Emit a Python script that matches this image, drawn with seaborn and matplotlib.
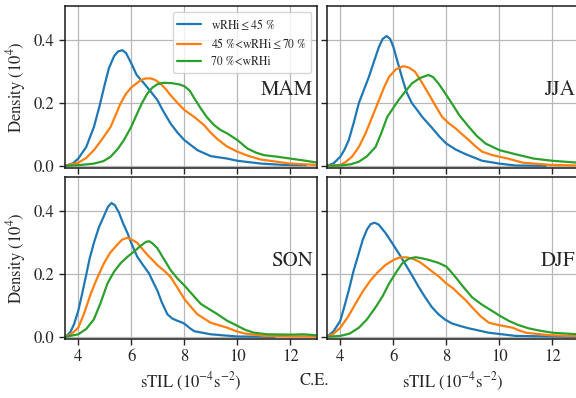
import pandas as pd
import matplotlib
matplotlib.use("Agg")
import matplotlib.pyplot as plt
import seaborn as sns

# curves, (sTIL, density) pairs
mam_low = [(3.52, 0), (3.8, 0.008), (4.0, 0.023), (4.3, 0.06), (4.59, 0.124), (4.8, 0.19),
           (4.97, 0.25), (5.15, 0.31), (5.35, 0.35), (5.5, 0.365), (5.66, 0.369), (5.8, 0.36),
           (6.0, 0.327), (6.2, 0.29), (6.48, 0.263), (6.75, 0.235), (6.98, 0.21), (7.2, 0.175),
           (7.48, 0.135), (7.75, 0.105), (8.0, 0.082), (8.49, 0.05), (8.99, 0.031), (9.3, 0.027),
           (9.62, 0.023), (10.0, 0.016), (10.9, 0.007), (11.7, 0.003), (12.58, 0.002)]
mam_mid = [(3.52, 0), (4.0, 0.01), (4.3, 0.025), (4.59, 0.05), (4.9, 0.085), (5.22, 0.124),
           (5.4, 0.16), (5.6, 0.2), (5.8, 0.23), (6.0, 0.25), (6.35, 0.273), (6.55, 0.279),
           (6.73, 0.279), (6.9, 0.274), (7.1, 0.262), (7.3, 0.245), (7.48, 0.225), (7.75, 0.2),
           (8.0, 0.178), (8.37, 0.156), (8.74, 0.13), (9.0, 0.105), (9.25, 0.085), (9.6, 0.062),
           (10.0, 0.045), (10.4, 0.032), (10.88, 0.02), (12.0, 0.007), (12.95, 0.003)]
mam_high = [(3.52, 0), (4.0, 0.002), (4.59, 0.007), (4.95, 0.015), (5.22, 0.029), (5.5, 0.055),
            (5.72, 0.082), (6.0, 0.125), (6.22, 0.167), (6.4, 0.2), (6.6, 0.23), (6.8, 0.25),
            (6.98, 0.26), (7.2, 0.265), (7.5, 0.264), (7.8, 0.26), (8.0, 0.254), (8.2, 0.24),
            (8.4, 0.212), (8.62, 0.183), (8.85, 0.155), (9.12, 0.13), (9.35, 0.115),
            (9.62, 0.103), (10.0, 0.082), (10.38, 0.055), (10.7, 0.042), (11.0, 0.034),
            (11.5, 0.029), (12.0, 0.023), (12.5, 0.017), (12.95, 0.011)]

jja_low = [(3.5, 0), (3.75, 0.008), (4.0, 0.029), (4.15, 0.05), (4.32, 0.082), (4.5, 0.135),
           (4.7, 0.2), (5.08, 0.284), (5.3, 0.34), (5.46, 0.38), (5.6, 0.405), (5.75, 0.414),
           (5.88, 0.405), (6.0, 0.38), (6.15, 0.335), (6.32, 0.284), (6.5, 0.235), (6.7, 0.2),
           (6.9, 0.178), (7.09, 0.156), (7.47, 0.12), (7.75, 0.092), (8.0, 0.071), (8.35, 0.052),
           (8.73, 0.037), (9.35, 0.016), (10.0, 0.007), (10.6, 0.001), (11.75, 0.0)]
jja_mid = [(3.5, 0), (4.0, 0.003), (4.2, 0.012), (4.44, 0.029), (4.7, 0.06), (4.95, 0.103),
           (5.2, 0.155), (5.46, 0.21), (5.65, 0.25), (5.84, 0.284), (6.1, 0.308), (6.38, 0.318),
           (6.6, 0.313), (6.82, 0.3), (7.05, 0.27), (7.33, 0.23), (7.6, 0.19), (7.84, 0.156),
           (8.1, 0.135), (8.34, 0.12), (8.6, 0.1), (8.85, 0.082), (9.1, 0.062), (9.35, 0.045),
           (9.7, 0.035), (10.0, 0.029), (10.37, 0.022), (10.88, 0.01), (11.9, 0.003), (12.95, 0.001)]
jja_high = [(3.5, 0), (4.0, 0.001), (4.4, 0.005), (4.7, 0.013), (5.0, 0.03), (5.33, 0.06),
            (5.55, 0.105), (5.77, 0.156), (6.0, 0.185), (6.2, 0.21), (6.45, 0.237), (6.7, 0.263),
            (7.0, 0.28), (7.33, 0.29), (7.5, 0.283), (7.7, 0.263), (7.95, 0.232), (8.2, 0.2),
            (8.5, 0.16), (8.85, 0.124), (9.15, 0.095), (9.48, 0.071), (10.0, 0.05), (10.6, 0.037),
            (11.3, 0.023), (12.0, 0.016), (12.95, 0.01)]

son_low = [(3.52, 0), (3.7, 0.015), (3.84, 0.04), (4.0, 0.083), (4.14, 0.135), (4.28, 0.19),
           (4.43, 0.25), (4.59, 0.3), (4.78, 0.35), (4.97, 0.386), (5.12, 0.415), (5.25, 0.427),
           (5.38, 0.42), (5.53, 0.397), (5.7, 0.36), (5.85, 0.332), (6.02, 0.295), (6.22, 0.256),
           (6.45, 0.228), (6.67, 0.202), (6.85, 0.17), (6.98, 0.148), (7.15, 0.11), (7.36, 0.072),
           (7.55, 0.058), (7.74, 0.051), (7.9, 0.046), (8.0, 0.042), (8.2, 0.028), (8.37, 0.018),
           (8.99, 0.008), (10.0, 0.001), (11.4, 0.0)]
son_mid = [(3.52, 0), (3.75, 0.01), (4.0, 0.029), (4.2, 0.07), (4.47, 0.137), (4.7, 0.185),
           (4.97, 0.235), (5.2, 0.268), (5.47, 0.294), (5.65, 0.31), (5.85, 0.316), (6.02, 0.31),
           (6.22, 0.3), (6.4, 0.282), (6.6, 0.262), (6.8, 0.245), (6.98, 0.229), (7.25, 0.21),
           (7.48, 0.191), (7.75, 0.155), (8.0, 0.121), (8.25, 0.095), (8.49, 0.072),
           (8.99, 0.045), (9.62, 0.029), (9.95, 0.018), (10.25, 0.011), (11.0, 0.003),
           (12.95, 0.001)]
son_high = [(3.52, 0), (4.0, 0.008), (4.3, 0.025), (4.59, 0.056), (4.85, 0.11), (5.1, 0.17),
            (5.35, 0.208), (5.6, 0.235), (5.85, 0.255), (6.1, 0.272), (6.35, 0.29), (6.55, 0.303),
            (6.67, 0.305), (6.8, 0.298), (6.98, 0.283), (7.2, 0.252), (7.48, 0.213), (7.75, 0.185),
            (8.0, 0.164), (8.3, 0.135), (8.62, 0.105), (9.0, 0.085), (9.25, 0.072), (9.6, 0.052),
            (10.0, 0.035), (10.3, 0.022), (10.63, 0.013), (11.13, 0.008), (12.0, 0.007),
            (12.5, 0.008), (12.95, 0.005)]

djf_low = [(3.5, 0), (3.75, 0.018), (4.0, 0.051), (4.15, 0.095), (4.32, 0.148), (4.5, 0.21),
           (4.7, 0.267), (4.85, 0.31), (5.01, 0.343), (5.15, 0.36), (5.3, 0.364), (5.45, 0.358),
           (5.7, 0.332), (5.95, 0.3), (6.2, 0.267), (6.45, 0.232), (6.7, 0.197), (6.95, 0.16),
           (7.2, 0.126), (7.45, 0.095), (7.7, 0.072), (7.95, 0.055), (8.2, 0.043), (8.5, 0.035),
           (8.85, 0.027), (9.6, 0.013), (10.6, 0.003), (11.9, 0.001), (12.95, 0.0)]
djf_mid = [(3.5, 0), (3.75, 0.01), (4.0, 0.029), (4.3, 0.065), (4.57, 0.105), (4.85, 0.145),
           (5.14, 0.18), (5.4, 0.205), (5.7, 0.229), (6.0, 0.245), (6.2, 0.252), (6.46, 0.254),
           (6.7, 0.25), (6.97, 0.24), (7.2, 0.226), (7.47, 0.208), (7.75, 0.19), (8.0, 0.17),
           (8.25, 0.155), (8.47, 0.137), (8.75, 0.115), (8.97, 0.094), (9.3, 0.065), (9.6, 0.045),
           (10.0, 0.037), (10.5, 0.029), (10.75, 0.02), (11.0, 0.013), (11.9, 0.005),
           (12.95, 0.002)]
djf_high = [(3.5, 0), (4.0, 0.003), (4.35, 0.01), (4.7, 0.029), (5.0, 0.055), (5.33, 0.094),
            (5.6, 0.13), (5.84, 0.17), (6.1, 0.205), (6.34, 0.235), (6.6, 0.25), (6.85, 0.254),
            (7.1, 0.25), (7.35, 0.245), (7.7, 0.236), (8.0, 0.224), (8.15, 0.21), (8.34, 0.191),
            (8.65, 0.158), (8.97, 0.126), (9.3, 0.105), (9.6, 0.089), (10.0, 0.068),
            (10.35, 0.051), (10.7, 0.038), (11.1, 0.027), (11.5, 0.02), (12.0, 0.013),
            (12.95, 0.008)]

seasons = ["MAM", "JJA", "SON", "DJF"]
groups = [r"wRHi$\leq$45 %", r"45 %<wRHi$\leq$70 %", "70 %<wRHi"]
curves = {
    "MAM": [mam_low, mam_mid, mam_high],
    "JJA": [jja_low, jja_mid, jja_high],
    "SON": [son_low, son_mid, son_high],
    "DJF": [djf_low, djf_mid, djf_high],
}
colors = ["#1f77b4", "#ff7f0e", "#2ca02c"]

sns.set_theme(style="ticks", rc={"axes.grid": True, "grid.color": "#b8b8b8",
                                 "grid.linewidth": 0.9, "axes.edgecolor": "0.1"})
plt.rcParams["font.family"] = ["STIXGeneral", "DejaVu Serif"]
plt.rcParams["mathtext.fontset"] = "stix"

W, H = 576, 398
fig = plt.figure(figsize=(W / 100, H / 100), dpi=100)

# axes boxes in pixels: left, top, width, height
boxes = [(65, 6, 252, 162), (327, 6, 252, 162), (65, 177, 252, 162), (327, 177, 252, 162)]
axes = []
for i, (l, t, w, h) in enumerate(boxes):
    kw = {}
    if axes:
        kw = {"sharex": axes[0], "sharey": axes[0]}
    ax = fig.add_axes([l / W, 1 - (t + h) / H, w / W, h / H], **kw)
    axes.append(ax)

for i, (ax, season) in enumerate(zip(axes, seasons)):
    rows = []
    for g, pts in zip(groups, curves[season]):
        for x, y in pts:
            rows.append({"sTIL": x, "density": y, "group": g})
    df = pd.DataFrame(rows)
    sns.lineplot(data=df, x="sTIL", y="density", hue="group", hue_order=groups,
                 palette=colors, estimator=None, sort=False, linewidth=1.6,
                 legend=(i == 0), ax=ax)
    ax.text(12.85, 0.24, season, fontsize=15, ha="right", va="center")
    ax.set_xlabel("")
    ax.set_ylabel("")
    ax.tick_params(labelsize=12, length=4, width=1)
    for s in ax.spines.values():
        s.set_linewidth(1.1)
    if i < 2:
        ax.tick_params(labelbottom=False)
    else:
        ax.set_xlabel(r"sTIL ($10^{-4}$s$^{-2}$)", fontsize=12)
    if i % 2 == 1:
        ax.tick_params(labelleft=False)
    else:
        ax.set_ylabel(r"Density ($10^4$)", fontsize=12)

axes[0].set_xlim(3.5, 13.0)
axes[0].set_ylim(-0.007, 0.51)
axes[0].set_xticks([4, 6, 8, 10, 12])
axes[0].set_yticks([0.0, 0.2, 0.4])

leg = axes[0].legend(loc="upper right", fontsize=8.5, frameon=True, framealpha=0.8,
                     borderaxespad=0.5, labelspacing=0.4)
leg.get_frame().set_edgecolor("0.8")

fig.text(0.545, 0.042, "C.E.", fontsize=12, ha="center", va="center")

fig.savefig("out.png", dpi=100)
